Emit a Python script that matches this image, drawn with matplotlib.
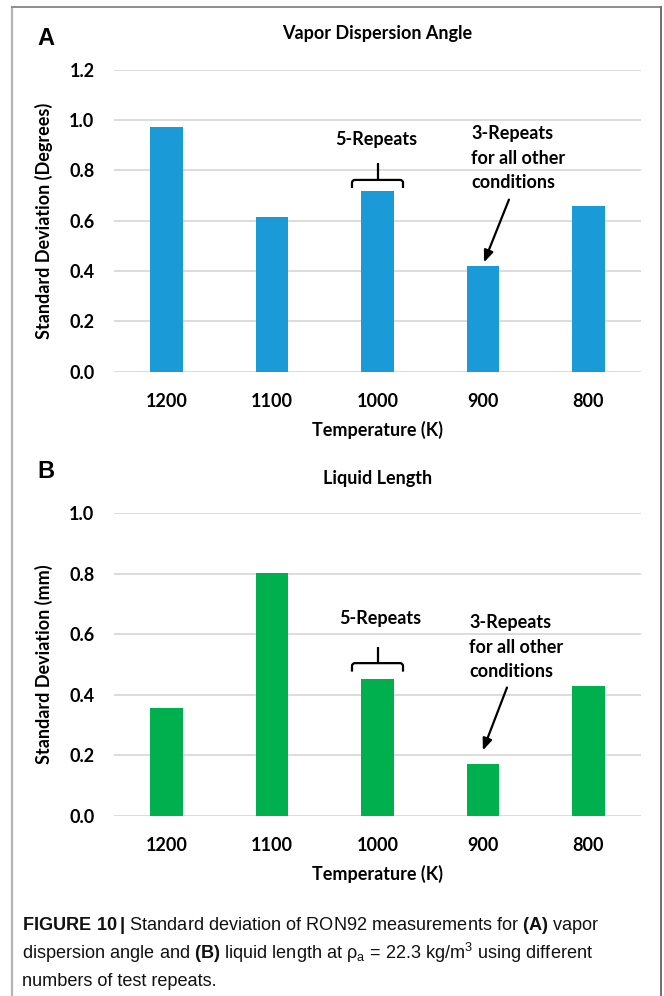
import matplotlib
matplotlib.use("Agg")
import matplotlib.pyplot as plt
from matplotlib import font_manager
from matplotlib.lines import Line2D
from matplotlib.path import Path
from matplotlib.patches import PathPatch

# Data
temperatures = ["1200", "1100", "1000", "900", "800"]
vapor_angle_sd = [0.971, 0.613, 0.718, 0.421, 0.660]
liquid_length_sd = [0.358, 0.804, 0.452, 0.173, 0.428]
angle_ticks = [0.0, 0.2, 0.4, 0.6, 0.8, 1.0, 1.2]
length_ticks = [0.0, 0.2, 0.4, 0.6, 0.8, 1.0]

BLUE = "#1a9ad6"
GREEN = "#00b04f"
GRID = "#d9d9d9"

available = {f.name for f in font_manager.fontManager.ttflist}
chart_font = "Lato" if "Lato" in available else "DejaVu Sans"
caption_font = "Liberation Sans Narrow" if "Liberation Sans Narrow" in available else "Liberation Sans"
caption_size = 15 if caption_font == "Liberation Sans Narrow" else 13.1

plt.rcParams["font.family"] = [chart_font, "DejaVu Sans"]
plt.rcParams["mathtext.fontset"] = "custom"
plt.rcParams["mathtext.rm"] = caption_font
plt.rcParams["mathtext.bf"] = caption_font + ":bold"

FS = 13
W, H = 664, 996
fig = plt.figure(figsize=(W / 100, H / 100), dpi=100)


def px_axes(left, top, right, bottom):
    return fig.add_axes([left / W, 1 - bottom / H, (right - left) / W, (bottom - top) / H])


def draw_brace(ax, xc, half, y_end, y_mid, y_top):
    r = half * 0.12
    dy = (y_mid - y_end) * 0.35
    verts = [
        (xc - half, y_end), (xc - half, y_mid - dy), (xc - half, y_mid), (xc - half + r, y_mid),
        (xc + half - r, y_mid), (xc + half, y_mid), (xc + half, y_mid - dy), (xc + half, y_end),
    ]
    codes = [Path.MOVETO, Path.LINETO, Path.CURVE3, Path.CURVE3,
             Path.LINETO, Path.CURVE3, Path.CURVE3, Path.LINETO]
    ax.add_patch(PathPatch(Path(verts, codes), fill=False, lw=1.6, color="black",
                           capstyle="butt", joinstyle="round"))
    ax.plot([xc, xc], [y_mid, y_top], color="black", lw=1.6, solid_capstyle="butt")


def panel(ax, values, color, ticks, title, ylabel, letter, title_pad, letter_y):
    x = range(len(temperatures))
    ax.bar(x, values, width=0.31, color=color, zorder=2)
    ax.set_xlim(-0.5, len(temperatures) - 0.5)
    ax.set_ylim(ticks[0], ticks[-1])
    ax.set_yticks(ticks)
    ax.set_yticklabels([f"{t:.1f}" for t in ticks])
    ax.set_xticks(list(x))
    ax.set_xticklabels(temperatures)
    ax.grid(axis="y", color=GRID, lw=1.3, zorder=0)
    ax.set_axisbelow(True)
    for s in ax.spines.values():
        s.set_visible(False)
    ax.tick_params(axis="both", length=0, labelsize=FS, colors="black")
    ax.tick_params(axis="y", pad=14)
    ax.tick_params(axis="x", pad=15)
    for lab in ax.get_xticklabels() + ax.get_yticklabels():
        lab.set_fontweight("bold")
    ax.set_xlabel("Temperature (K)", fontsize=FS, fontweight="bold", labelpad=8)
    ax.set_ylabel(ylabel, fontsize=FS, fontweight="bold", labelpad=12)
    ax.set_title(title, fontsize=FS, fontweight="bold", pad=title_pad)
    ax.text(-0.146, letter_y, letter, transform=ax.transAxes, fontsize=17, fontweight="bold",
            family="Liberation Sans", ha="left", va="baseline")


# Panel A: vapor dispersion angle
axA = px_axes(114, 69.7, 641, 371.7)
panel(axA, vapor_angle_sd, BLUE, angle_ticks, "Vapor Dispersion Angle",
      "Standard Deviation (Degrees)", "A", 22, 1.082)
draw_brace(axA, 2.0, 0.242, 0.730, 0.762, 0.829)
axA.text(1.99, 0.921, "5-Repeats", ha="center", va="center", fontsize=FS, fontweight="bold")
axA.text(2.887, 0.849, "3-Repeats\nfor all other\nconditions", ha="left", va="center",
         fontsize=FS, fontweight="bold", linespacing=1.55)
axA.annotate("", xy=(3.0, 0.424), xytext=(3.257, 0.694),
             arrowprops=dict(arrowstyle="-|>,head_length=0.7,head_width=0.28", color="black", lw=1.6))

# Panel B: liquid length
axB = px_axes(114, 513.3, 641, 816)
panel(axB, liquid_length_sd, GREEN, length_ticks, "Liquid Length",
      "Standard Deviation (mm)", "B", 21, 1.117)
draw_brace(axB, 2.0, 0.242, 0.477, 0.505, 0.558)
axB.text(2.03, 0.651, "5-Repeats", ha="center", va="center", fontsize=FS, fontweight="bold")
axB.text(2.868, 0.558, "3-Repeats\nfor all other\nconditions", ha="left", va="center",
         fontsize=FS, fontweight="bold", linespacing=1.55)
axB.annotate("", xy=(2.99, 0.208), xytext=(3.238, 0.433),
             arrowprops=dict(arrowstyle="-|>,head_length=0.7,head_width=0.28", color="black", lw=1.6))


# Frame around the figure
def fig_line(x0, y0, x1, y1, color, lw):
    fig.add_artist(Line2D([x0 / W, x1 / W], [1 - y0 / H, 1 - y1 / H], color=color, lw=lw,
                          transform=fig.transFigure))


fig_line(12, 7, 12, H, "#b4b4b4", 1.6)
fig_line(12, 7, 661, 7, "#8c8c8c", 1.4)
fig_line(661, 7, 661, H, "#6e6e6e", 1.4)

# Caption
cap_lines = [
    r"$\bf{FIGURE\ 10\,|}$ Standard deviation of RON92 measurements for $\bf{(A)}$ vapor",
    r"dispersion angle and $\bf{(B)}$ liquid length at ρ$_{\rm a}$ = 22.3 kg/m$^{3}$ using different",
    "numbers of test repeats.",
]
for i, line in enumerate(cap_lines):
    fig.text(22 / W, 1 - (925 + 28 * i) / H, line, family=caption_font, fontsize=caption_size,
             ha="left", va="center", color="#111111")

fig.savefig("out.png", dpi=100)
